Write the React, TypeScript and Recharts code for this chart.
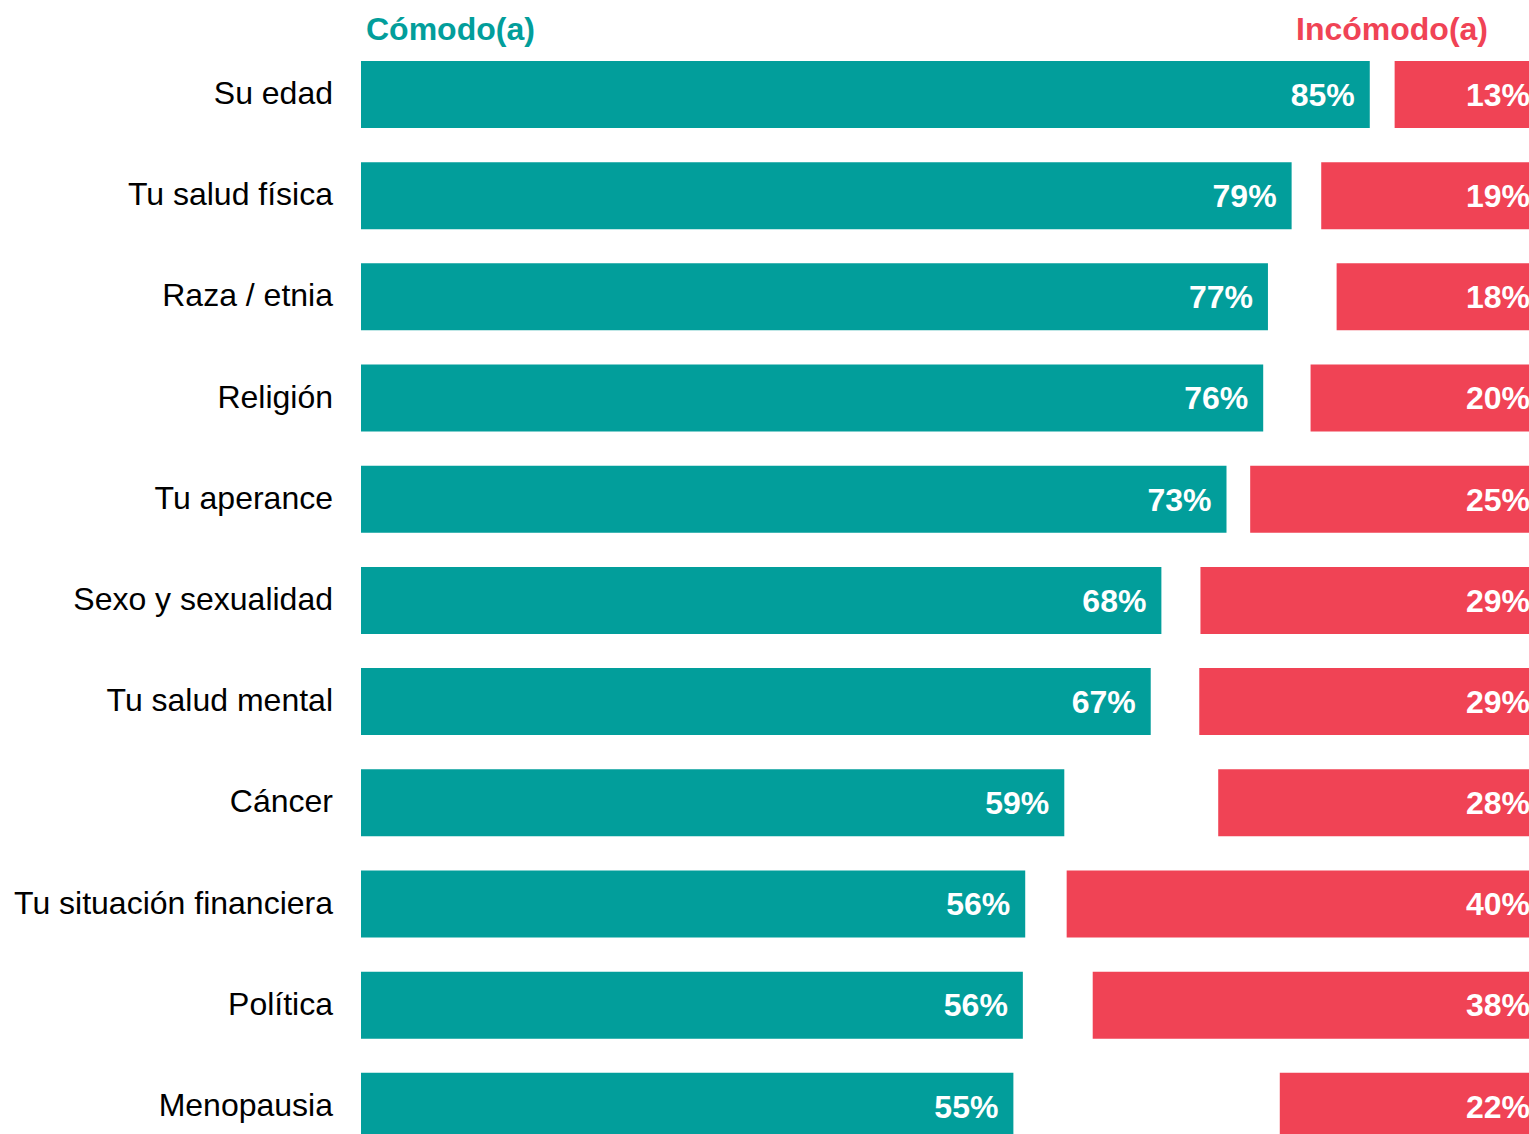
import React from 'react';
import { BarChart, Bar, XAxis, YAxis, LabelList } from 'recharts';

const FONT = '"Liberation Sans", Arial, sans-serif';
const TEAL = '#029E9B';
const RED = '#F04355';

// categories, top to bottom
const topics = [
  'Su edad',
  'Tu salud física',
  'Raza / etnia',
  'Religión',
  'Tu aperance',
  'Sexo y sexualidad',
  'Tu salud mental',
  'Cáncer',
  'Tu situación financiera',
  'Política',
  'Menopausia',
];

// % comfortable (teal)
const comfortable = [85.2, 78.6, 76.6, 76.2, 73.1, 67.6, 66.7, 59.4, 56.1, 55.9, 55.1];
// % neither / no answer (blank gap between the bars)
const neutral = [2.1, 2.5, 5.8, 4.0, 2.0, 3.3, 4.1, 13.0, 3.5, 5.9, 22.5];
// % uncomfortable (red)
const uncomfortable = [12.7, 18.9, 17.6, 19.8, 24.9, 29.1, 29.2, 27.6, 40.4, 38.2, 22.4];

const data = topics.map((name, i) => ({
  name,
  comf: comfortable[i],
  gap: neutral[i],
  uncomf: uncomfortable[i],
}));

const pct = (v: any) => `${Math.round(Number(v))}%`;

const labelStyle = { fill: '#fff', fontSize: 32, fontWeight: 700, fontFamily: FONT };

// category label, right aligned against the bars
const TopicTick = ({ x, y, payload }: any) => (
  <text x={x} y={y + 9.5} textAnchor="end" fill="#000" fontSize={32} fontFamily={FONT}>
    {payload.value}
  </text>
);

export default function App() {
  return (
    <div
      style={{
        position: 'absolute',
        left: 0,
        top: 0,
        width: 1529,
        height: 1134,
        overflow: 'hidden',
        background: '#fff',
      }}
    >
      <BarChart
        width={1560}
        height={1157}
        data={data}
        layout="vertical"
        margin={{ top: 44, right: 15, bottom: 0, left: 0 }}
      >
        <XAxis type="number" domain={[0, 100]} allowDataOverflow hide />
        <YAxis
          type="category"
          dataKey="name"
          width={361}
          axisLine={false}
          tickLine={false}
          tickSize={0}
          tickMargin={28}
          interval={0}
          tick={<TopicTick />}
        />
        <Bar dataKey="comf" stackId="s" fill={TEAL} barSize={67} isAnimationActive={false}>
          <LabelList dataKey="comf" position="insideRight" offset={15} formatter={pct} style={labelStyle} />
        </Bar>
        <Bar dataKey="gap" stackId="s" fill="none" barSize={67} isAnimationActive={false} />
        <Bar dataKey="uncomf" stackId="s" fill={RED} barSize={67} isAnimationActive={false}>
          <LabelList dataKey="uncomf" position="insideRight" offset={15} formatter={pct} style={labelStyle} />
        </Bar>
      </BarChart>

      {/* column headers */}
      <svg
        width={1529}
        height={1134}
        style={{ position: 'absolute', left: 0, top: 0, pointerEvents: 'none' }}
      >
        <text x={366} y={39.5} fill={TEAL} fontSize={32} fontWeight={700} fontFamily={FONT}>
          Cómodo(a)
        </text>
        <text x={1488} y={39.5} textAnchor="end" fill={RED} fontSize={32} fontWeight={700} fontFamily={FONT}>
          Incómodo(a)
        </text>
      </svg>
    </div>
  );
}
